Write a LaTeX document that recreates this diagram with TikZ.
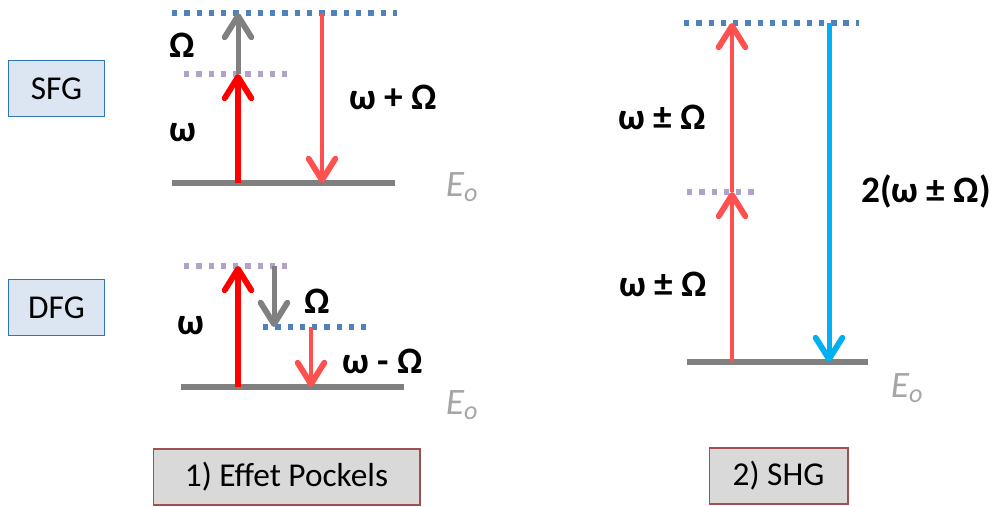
\documentclass[tikz,border=0pt]{standalone}
\usepackage{fontspec}
\setmainfont{Carlito}
\usetikzlibrary{arrows.meta}
\definecolor{lvlgray}{HTML}{808080}
\definecolor{virtblue}{HTML}{4F81BD}
\definecolor{virtpurple}{HTML}{B3A2C7}
\definecolor{pumpred}{HTML}{FF0000}
\definecolor{lightred}{HTML}{FF5050}
\definecolor{shgblue}{HTML}{00B0F0}
\definecolor{boxblue}{HTML}{DCE6F2}
\definecolor{boxline}{HTML}{2E75B6}
\definecolor{capgray}{HTML}{D9D9D9}
\definecolor{capline}{HTML}{A05050}
\tikzset{
  ground/.style={draw=lvlgray,line width=4.5pt},
  virt/.style={line width=4.2pt,dash pattern=on 4pt off 5.2pt},
  photon/.style={-{Straight Barb[length=16pt,width=20pt,round,line width=4.4pt]}},
  lbl/.style={font=\bfseries\fontsize{28}{32}\selectfont,inner sep=0pt},
  elabel/.style={font=\itshape\fontsize{28}{32}\selectfont,text=black!35,inner sep=0pt},
  procbox/.style={draw=boxline,fill=boxblue,line width=1pt,minimum width=72pt,minimum height=42pt,inner sep=0pt,font=\fontsize{25}{30}\selectfont},
  capbox/.style={draw=capline,fill=capgray,line width=1pt,minimum height=42pt,inner sep=0pt,font=\fontsize{25}{30}\selectfont},
}

\begin{document}
\begin{tikzpicture}[x=0.75pt,y=-0.75pt]
\useasboundingbox (0,0) rectangle (994,506);

% process boxes
\node[procbox] (sfg) at (56.5,88.5) {SFG};
\node[procbox] (dfg) at (56.5,307.5) {DFG};
\node[capbox,minimum width=200pt] (pockels) at (286.5,477) {1) Effet Pockels};
\node[capbox,minimum width=104pt] (shg) at (778.5,476) {2) SHG};

% SFG levels
\draw[ground] (172,183) -- (395,183);
\draw[virt,virtpurple] (184,74) -- (294,74);
\draw[virt,virtblue] (172,13) -- (397,13);
\coordinate (sfgA) at (238,183);
\coordinate (sfgB) at (238,74);
\coordinate (sfgC) at (238,13);
\coordinate (sfgD) at (322,13);
\coordinate (sfgE) at (322,183);
\draw[photon,pumpred,line width=4.5pt] (sfgA) -- (sfgB);
\draw[photon,lvlgray,line width=3.75pt] (sfgB) -- (sfgC);
\draw[photon,lightred,line width=3.4pt] (sfgD) -- (sfgE);
\node[lbl] (sfgOm) at (182,45) {Ω};
\node[lbl] (sfgW) at (183,133) {ω};
\node[lbl] (sfgSum) at (393,97) {ω + Ω};
\node[elabel] (sfgE0) at (462,187) {E\textsubscript{o}};

% DFG levels
\draw[ground] (181,387) -- (404,387);
\draw[virt,virtpurple] (184,266) -- (294,266);
\draw[virt,virtblue] (263,327) -- (372,327);
\coordinate (dfgA) at (238,387);
\coordinate (dfgB) at (238,266);
\coordinate (dfgC) at (274,266);
\coordinate (dfgD) at (274,327);
\coordinate (dfgE) at (311,327);
\coordinate (dfgF) at (311,387);
\draw[photon,pumpred,line width=4.5pt] (dfgA) -- (dfgB);
\draw[photon,lvlgray,line width=3.75pt] (dfgC) -- (dfgD);
\draw[photon,lightred,line width=3.4pt] (dfgE) -- (dfgF);
\node[lbl] (dfgW) at (191,326) {ω};
\node[lbl] (dfgOm) at (317,301) {Ω};
\node[lbl] (dfgDiff) at (383,361) {ω - Ω};
\node[elabel] (dfgE0) at (462,405) {E\textsubscript{o}};

% SHG levels
\draw[ground] (687,362) -- (868,362);
\draw[virt,virtpurple] (687,192) -- (760,192);
\draw[virt,virtblue] (684,23) -- (859,23);
\coordinate (shgA) at (732,362);
\coordinate (shgB) at (732,192);
\coordinate (shgC) at (732,23);
\coordinate (shgD) at (829,23);
\coordinate (shgE) at (829,362);
\draw[photon,lightred,line width=3.4pt] (shgA) -- (shgB);
\draw[photon,lightred,line width=3.4pt] (shgB) -- (shgC);
\draw[photon,shgblue,line width=3.75pt] (shgD) -- (shgE);
\node[lbl] (shgUp) at (662,117) {ω ± Ω};
\node[lbl] (shgLow) at (663,284) {ω ± Ω};
\node[lbl] (shgTwo) at (926,191) {2(ω ± Ω)};
\node[elabel] (shgE0) at (907,388) {E\textsubscript{o}};
\end{tikzpicture}
\end{document}
